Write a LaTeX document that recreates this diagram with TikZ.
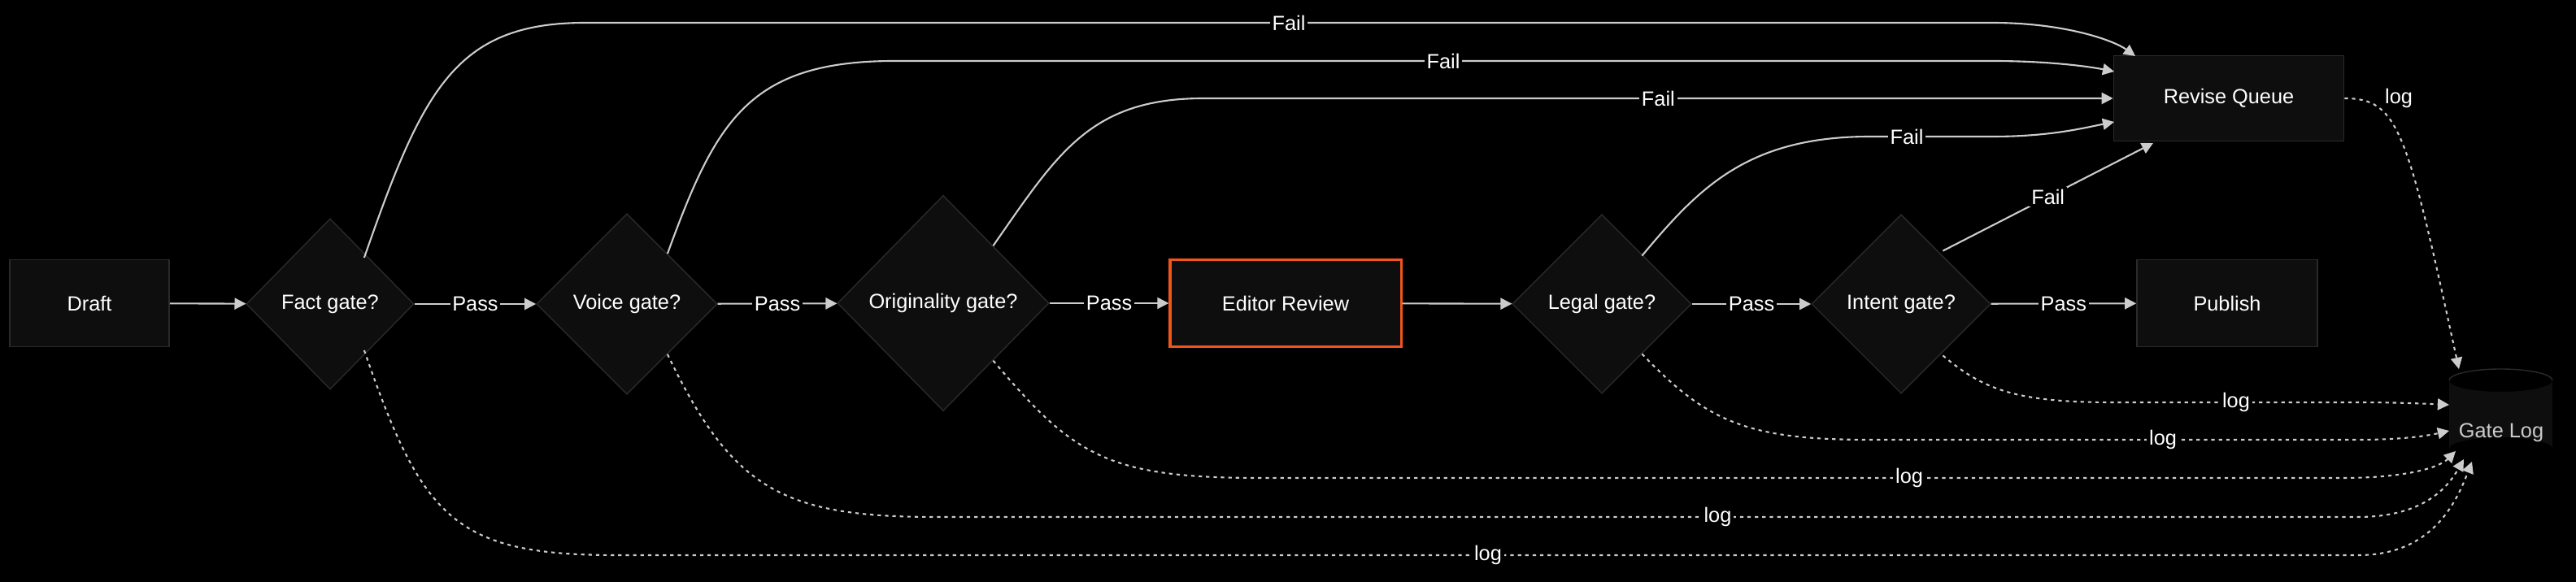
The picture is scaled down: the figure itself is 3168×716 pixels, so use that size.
\documentclass[tikz,border=0pt]{standalone}
\usepackage{fontspec}
\setmainfont{Liberation Sans}
\usetikzlibrary{arrows.meta,shapes.geometric}
\definecolor{edge}{HTML}{CCCCCC}
\definecolor{nfill}{HTML}{0E0E0E}
\definecolor{nline}{HTML}{2A2A2A}
\definecolor{accent}{HTML}{F0561C}
\begin{document}
\begin{tikzpicture}[x=0.01cm,y=-0.01cm,
  font=\fontsize{7.2}{8}\selectfont, text=white,
  box/.style={draw=nline,fill=nfill,minimum width=1.96cm,minimum height=1.07cm,inner sep=0},
  gate/.style={diamond,draw=nline,fill=nfill,inner sep=0,aspect=1},
  e/.style={draw=edge,line width=0.6pt,-{Triangle[length=4pt,width=4pt]}},
  d/.style={e,dash pattern=on 1.2pt off 1.4pt},
  lab/.style={fill=black,inner sep=0.8pt,text=white}]
\fill[black] (0,0) rectangle (3168,716);
\useasboundingbox (0,0) rectangle (3168,716);
\node[box] (draft) at (110,373) {Draft};
\node[gate,minimum width=2.06cm,minimum height=2.1cm] (fact) at (406,374) {Fact gate?};
\node[gate,minimum width=2.22cm,minimum height=2.22cm] (voice) at (771,374) {Voice gate?};
\node[gate,minimum width=2.6cm,minimum height=2.65cm] (orig) at (1160,373) {Originality gate?};
\node[box,draw=accent,line width=0.9pt,minimum width=2.84cm] (ed) at (1581,373) {Editor Review};
\node[gate,minimum width=2.2cm,minimum height=2.2cm] (legal) at (1970,374) {Legal gate?};
\node[gate,minimum width=2.2cm,minimum height=2.2cm] (intent) at (2338,374) {Intent gate?};
\node[box,minimum width=2.22cm] (pub) at (2739,373) {Publish};
\node[box,minimum width=2.83cm,minimum height=1.05cm] (rev) at (2741,121) {Revise Queue};
% cylinder
\fill[nfill] (3012,468) -- (3012,552) arc[start angle=180,end angle=360,x radius=63.5,y radius=14] -- (3139,468) arc[start angle=0,end angle=180,x radius=63.5,y radius=14];
\draw[nline] (3012,468) arc[start angle=180,end angle=360,x radius=63.5,y radius=14];
\node[inner sep=0,minimum width=1.27cm,minimum height=1.14cm,text=white!80!black] (gl) at (3076,532) {Gate Log};
% main flow
\draw[e] (draft) -- (fact);
\draw[e] (fact) -- node[lab]{Pass} (voice);
\draw[e] (voice) -- node[lab]{Pass} (orig);
\draw[e] (orig) -- node[lab]{Pass} (ed);
\draw[e] (ed) -- (legal);
\draw[e] (legal) -- node[lab]{Pass} (intent);
\draw[e] (intent) -- node[lab]{Pass} (pub);
% fails
\draw[e] (fact.north east) ++(-10,-4) .. controls (520,110) and (560,28) .. (720,28) -- node[lab,pos=0.5]{Fail} (2450,28) .. controls (2540,28) and (2600,50) .. (2626,69);
\draw[e] (voice.north east) ++(-6,-6) .. controls (880,150) and (920,75) .. (1100,75) -- node[lab]{Fail} (2450,75) .. controls (2520,75) and (2570,82) .. (2600,88);
\draw[e] (orig.north east) ++(-4,-4) .. controls (1300,190) and (1340,121) .. (1480,121) -- node[lab]{Fail} (rev.west);
\draw[e] (legal.north east) ++(-6,-4) .. controls (2090,230) and (2150,168) .. (2300,168) -- node[lab,pos=0.3]{Fail} (2450,168) .. controls (2520,168) and (2560,158) .. (2600,150);
\draw[e] (intent.north east) ++(-4,-10) -- node[lab]{Fail} (2648,176);
% logs
\draw[d] (rev.east) .. controls (2950,121) and (2960,160) .. (3024,454);
\node[lab] (rlog) at (2950,121) {log};
\draw[d] (intent.south east) ++(-4,8) .. controls (2440,480) and (2480,495) .. (2600,495) -- node[lab,pos=0.5]{log} (2900,495) .. controls (2950,495) and (2990,497) .. (3012,498);
\draw[d] (legal.south east) ++(-6,6) .. controls (2100,520) and (2150,541) .. (2300,541) -- node[lab,pos=0.6]{log} (2900,541) .. controls (2960,541) and (2990,535) .. (3012,530);
\draw[d] (orig.south east) ++(-4,4) .. controls (1320,560) and (1360,588) .. (1550,588) -- node[lab,pos=0.6]{log} (2880,588) .. controls (2960,588) and (3000,575) .. (3020,555);
\draw[d] (voice.south east) ++(-6,6) .. controls (900,600) and (960,636) .. (1150,636) -- node[lab,pos=0.55]{log} (2900,636) .. controls (2980,636) and (3010,600) .. (3030,565);
\draw[d] (fact.south east) ++(-10,4) .. controls (520,640) and (560,683) .. (760,683) -- node[lab,pos=0.5]{log} (2900,683) .. controls (2990,683) and (3020,620) .. (3040,568);
\end{tikzpicture}
\end{document}
